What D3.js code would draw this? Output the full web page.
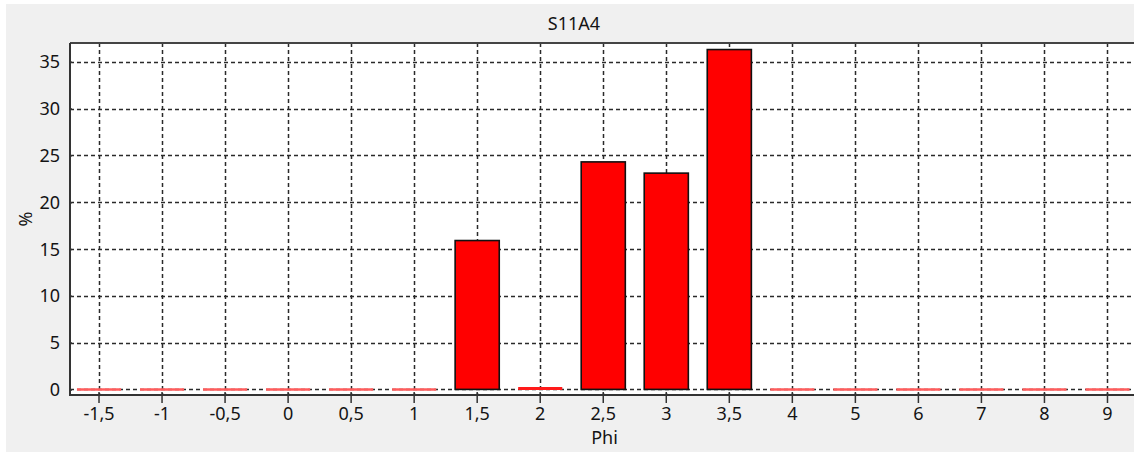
<!DOCTYPE html>
<html>
<head>
<meta charset="utf-8">
<script src="https://cdn.jsdelivr.net/npm/d3@7"></script>
<style>
  html, body { margin: 0; padding: 0; background: #ffffff; }
  svg { display: block; }
  text { font-family: "Noto Sans", "Open Sans", "DejaVu Sans", sans-serif; fill: #141414; }
</style>
</head>
<body>
<svg id="chart" width="1134" height="452"></svg>
<script>
// Phi classes and share of sample (%) for S11A4
const categories = ["-1,5", "-1", "-0,5", "0", "0,5", "1", "1,5", "2", "2,5", "3", "3,5", "4", "5", "6", "7", "8", "9"];
const percent    = [0, 0, 0, 0, 0, 0, 15.9, 0.2, 24.3, 23.1, 36.3, 0, 0, 0, 0, 0, 0];
const yTicks     = [0, 5, 10, 15, 20, 25, 30, 35];
const chartTitle = "S11A4";
const xTitle     = "Phi";
const yTitle     = "%";

const svg = d3.select("#chart");
const W = 1134, H = 452;

// panel background
svg.append("rect").attr("x", 6).attr("y", 4).attr("width", W - 6).attr("height", H - 4)
  .attr("fill", "#f0f0f0");

const plot = { left: 70, top: 43, right: 1139, bottom: 395 };

const x = d3.scaleBand()
  .domain(categories)
  .range([plot.left - 2.5, plot.right])
  .paddingInner(0.3)
  .paddingOuter(0.15);

const y = d3.scaleLinear()
  .domain([-0.6, 37])
  .range([plot.bottom, plot.top]);

// plot area
svg.append("rect")
  .attr("x", plot.left).attr("y", plot.top)
  .attr("width", plot.right - plot.left).attr("height", plot.bottom - plot.top)
  .attr("fill", "#ffffff");

const grid = svg.append("g").attr("stroke", "#2a2a2a").attr("stroke-width", 1.5)
  .attr("stroke-dasharray", "4,3");

grid.selectAll("line.h").data(yTicks).join("line")
  .attr("class", "h")
  .attr("x1", plot.left).attr("x2", plot.right)
  .attr("y1", d => Math.round(y(d)) + 0.5).attr("y2", d => Math.round(y(d)) + 0.5);

grid.selectAll("line.v").data(categories).join("line")
  .attr("class", "v")
  .attr("x1", d => Math.round(x(d) + x.bandwidth() / 2) + 0.5)
  .attr("x2", d => Math.round(x(d) + x.bandwidth() / 2) + 0.5)
  .attr("y1", plot.top).attr("y2", plot.bottom);

// bars
const rows = categories.map((c, i) => ({ c, v: percent[i] }));
const bars = svg.append("g");

bars.selectAll("rect").data(rows.filter(d => d.v > 0.5)).join("rect")
  .attr("x", d => x(d.c))
  .attr("y", d => y(d.v))
  .attr("width", x.bandwidth())
  .attr("height", d => y(0) - y(d.v))
  .attr("fill", "#ff0000")
  .attr("stroke", "#111")
  .attr("stroke-width", 1.6);

// near-zero classes show as a flat red segment on the baseline
bars.selectAll("line").data(rows.filter(d => d.v <= 0.5)).join("line")
  .attr("x1", d => x(d.c)).attr("x2", d => x(d.c) + x.bandwidth())
  .attr("y1", d => y(d.v / 2)).attr("y2", d => y(d.v / 2))
  .attr("stroke", d => d.v > 0 ? "#ff1a1a" : "#ff5c5c")
  .attr("stroke-width", d => d.v > 0 ? 3 : 2.5);

// axes
const yAxis = svg.append("g")
  .attr("transform", `translate(${plot.left},0)`)
  .call(d3.axisLeft(y).tickValues(yTicks).tickSize(8).tickSizeOuter(0).tickPadding(2));
yAxis.select(".domain").remove();
yAxis.selectAll(".tick line").attr("x2", 2).attr("stroke", "#333").attr("stroke-width", 1.5);
yAxis.selectAll(".tick text").style("font-size", "18px").attr("dy", "0.34em");

const xAxis = svg.append("g")
  .attr("transform", `translate(0,${plot.bottom})`)
  .call(d3.axisBottom(x).tickSize(8).tickSizeOuter(0).tickPadding(4));
xAxis.select(".domain").remove();
xAxis.selectAll(".tick line").attr("y1", -3).attr("stroke", "#333").attr("stroke-width", 1.5);
xAxis.selectAll(".tick text").style("font-size", "18px");

// frame lines
svg.append("line").attr("x1", plot.left).attr("x2", W).attr("y1", plot.top).attr("y2", plot.top)
  .attr("stroke", "#444").attr("stroke-width", 2);
svg.append("line").attr("x1", plot.left).attr("x2", plot.left).attr("y1", plot.top).attr("y2", plot.bottom + 1)
  .attr("stroke", "#333").attr("stroke-width", 2);
svg.append("line").attr("x1", plot.left - 1).attr("x2", W).attr("y1", plot.bottom).attr("y2", plot.bottom)
  .attr("stroke", "#333").attr("stroke-width", 2);

// titles
svg.append("text").attr("x", 574).attr("y", 30).attr("text-anchor", "middle")
  .style("font-size", "18px").text(chartTitle);
svg.append("text").attr("x", (plot.left + plot.right) / 2).attr("y", 444).attr("text-anchor", "middle")
  .style("font-size", "18px").text(xTitle);
svg.append("text")
  .attr("transform", `translate(32,${(plot.top + plot.bottom) / 2}) rotate(-90)`)
  .attr("text-anchor", "middle").style("font-size", "18px").text(yTitle);
</script>
</body>
</html>
